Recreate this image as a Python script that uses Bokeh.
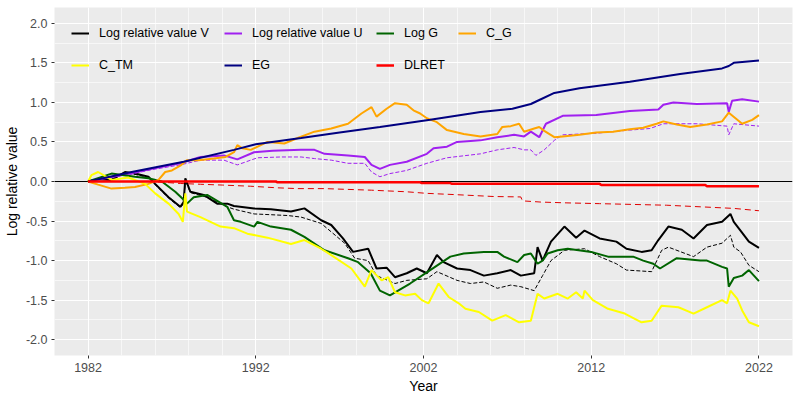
from bokeh.plotting import figure
from bokeh.models import Span, Legend, LegendItem, FixedTicker, PrintfTickFormatter, Range1d
from bokeh.embed import file_html
from bokeh.resources import INLINE

# ---------------- data ----------------
x_ticks = [1982, 1992, 2002, 2012, 2022]
x_minor = list(range(1980, 2025, 2))
y_ticks = [-2.0, -1.5, -1.0, -0.5, 0.0, 0.5, 1.0, 1.5, 2.0]
y_minor = [-1.75, -1.25, -0.75, -0.25, 0.25, 0.75, 1.25, 1.75]

t_V = [1982.0, 1982.6, 1983.4, 1984.2, 1984.8, 1985.6, 1986.0, 1986.8, 1987.5, 1987.7, 1987.8, 1988.1,
       1988.9, 1989.7, 1990.3, 1990.7, 1991.9, 1992.9, 1994.1, 1994.9, 1995.9, 1996.5, 1997.2, 1997.8,
       1998.7, 1999.2, 1999.8, 2000.3, 2001.0, 2001.6, 2002.2, 2002.8, 2003.2, 2004.0, 2004.8, 2005.6,
       2006.4, 2007.2, 2007.8, 2008.6, 2008.8, 2009.1, 2009.6, 2010.4, 2011.1, 2011.6, 2012.5, 2013.5,
       2014.1, 2015.0, 2015.6, 2016.0, 2016.6, 2017.4, 2018.1, 2018.9, 2019.8, 2020.3, 2020.5, 2020.9,
       2021.4, 2022.0]
V = [0.0, 0.03, 0.02, 0.12, 0.10, 0.06, -0.03, -0.20, -0.32, -0.26, 0.04, -0.13,
     -0.17, -0.28, -0.28, -0.31, -0.34, -0.35, -0.38, -0.34, -0.49, -0.55, -0.72, -0.89,
     -0.85, -1.10, -1.09, -1.21, -1.16, -1.10, -1.16, -0.93, -1.02, -1.10, -1.12, -1.19,
     -1.16, -1.12, -1.19, -1.16, -0.83, -1.00, -0.76, -0.57, -0.71, -0.62, -0.72, -0.76,
     -0.85, -0.89, -0.87, -0.74, -0.57, -0.61, -0.72, -0.55, -0.51, -0.41, -0.51, -0.62,
     -0.76, -0.84]

t_V2 = [1982.0, 1982.6, 1983.4, 1984.2, 1984.8, 1985.6, 1986.0, 1986.8, 1987.5, 1987.7, 1987.8, 1988.1,
        1989.1, 1990.3, 1990.7, 1991.9, 1993.9, 1994.7, 1995.9, 1997.3, 1997.9, 1998.7, 1999.2, 2000.3,
        2001.0, 2002.2, 2002.8, 2004.0, 2004.8, 2005.6, 2006.4, 2007.2, 2007.8, 2008.6, 2009.1, 2009.6,
        2010.4, 2011.6, 2012.5, 2013.5, 2014.1, 2015.6, 2016.2, 2016.6, 2018.1, 2018.9, 2019.8, 2020.3,
        2020.5, 2020.9, 2021.4, 2022.0]
V2 = [0.0, 0.03, 0.02, 0.11, 0.09, 0.05, -0.04, -0.21, -0.33, -0.28, 0.02, -0.14,
      -0.20, -0.32, -0.35, -0.41, -0.43, -0.45, -0.53, -0.78, -0.97, -1.00, -1.19, -1.29,
      -1.25, -1.23, -1.14, -1.25, -1.29, -1.27, -1.35, -1.31, -1.33, -1.38, -1.19, -1.00,
      -0.87, -0.85, -0.95, -1.04, -1.12, -1.14, -0.87, -0.83, -0.95, -0.83, -0.78, -0.68,
      -0.83, -0.89, -1.06, -1.14]

t_U = [1982.0, 1983.0, 1984.5, 1985.8, 1987.5, 1988.7, 1990.1, 1990.9, 1991.9, 1993.0, 1994.7, 1995.5,
       1996.1, 1997.5, 1998.5, 1998.9, 1999.4, 2000.0, 2001.0, 2002.2, 2002.6, 2003.4, 2004.0, 2005.4,
       2006.4, 2007.4, 2008.0, 2008.4, 2008.9, 2009.3, 2010.3, 2012.3, 2014.3, 2016.0, 2016.3, 2016.9,
       2018.3, 2020.1, 2020.2, 2020.4, 2021.0, 2022.0]
U = [0.0, 0.04, 0.10, 0.16, 0.23, 0.31, 0.33, 0.28, 0.37, 0.39, 0.40, 0.40,
     0.35, 0.33, 0.31, 0.21, 0.16, 0.21, 0.25, 0.35, 0.42, 0.44, 0.50, 0.52,
     0.56, 0.59, 0.57, 0.63, 0.56, 0.73, 0.83, 0.84, 0.89, 0.91, 0.97, 1.00,
     0.98, 0.99, 0.88, 1.02, 1.04, 1.01]

t_U2 = [1982.0, 1983.0, 1984.5, 1985.8, 1987.5, 1988.7, 1990.1, 1990.9, 1992.1, 1993.5, 1994.7, 1995.5,
        1996.5, 1997.5, 1998.5, 1998.9, 1999.4, 2000.0, 2001.0, 2002.2, 2003.4, 2005.4, 2006.4, 2007.4,
        2008.0, 2008.4, 2008.7, 2009.2, 2009.8, 2010.3, 2012.3, 2014.3, 2015.5, 2016.3, 2018.3, 2020.1,
        2020.2, 2020.5, 2022.0]
U2 = [0.0, 0.04, 0.09, 0.15, 0.21, 0.27, 0.27, 0.21, 0.30, 0.31, 0.31, 0.29,
      0.27, 0.23, 0.23, 0.12, 0.06, 0.10, 0.14, 0.23, 0.30, 0.35, 0.40, 0.43,
      0.40, 0.40, 0.33, 0.40, 0.52, 0.59, 0.61, 0.65, 0.67, 0.73, 0.73, 0.70,
      0.59, 0.73, 0.70]

t_G = [1982.0, 1983.4, 1984.8, 1985.6, 1986.4, 1987.2, 1987.75, 1987.9, 1988.3, 1989.1, 1990.3, 1990.7,
       1991.1, 1991.9, 1992.1, 1992.9, 1994.1, 1994.9, 1996.1, 1997.5, 1998.1, 1998.85, 1999.4, 2000.0,
       2001.2, 2002.4, 2003.6, 2004.4, 2005.6, 2006.4, 2006.8, 2007.6, 2008.0, 2008.4, 2008.8, 2009.1,
       2009.4, 2010.0, 2010.6, 2012.0, 2013.0, 2014.5, 2015.1, 2015.7, 2016.1, 2017.1, 2018.5, 2018.9,
       2019.8, 2020.1, 2020.2, 2020.5, 2021.0, 2021.4, 2022.0]
G = [0.0, 0.10, 0.06, 0.04, 0.0, -0.13, -0.24, -0.28, -0.20, -0.17, -0.32, -0.49,
     -0.51, -0.57, -0.51, -0.57, -0.61, -0.70, -0.87, -0.97, -1.02, -1.16, -1.38, -1.44,
     -1.29, -1.12, -0.95, -0.91, -0.89, -0.89, -0.95, -1.02, -0.93, -0.91, -1.04, -1.00,
     -0.91, -0.87, -0.85, -0.89, -0.95, -0.95, -1.00, -1.04, -1.10, -0.97, -1.00, -1.00,
     -1.08, -1.10, -1.33, -1.22, -1.19, -1.12, -1.26]

t_CG = [1982.0, 1982.6, 1983.4, 1984.2, 1984.8, 1985.6, 1986.2, 1986.6, 1987.0, 1987.5, 1987.9, 1988.6,
        1989.5, 1990.2, 1990.7, 1990.9, 1991.2, 1991.7, 1992.7, 1993.7, 1994.5, 1995.5, 1996.5, 1997.5,
        1998.3, 1998.9, 1999.2, 1999.8, 2000.3, 2001.0, 2001.4, 2001.8, 2002.2, 2002.8, 2003.4, 2004.4,
        2005.4, 2006.4, 2006.7, 2007.2, 2007.7, 2008.0, 2008.6, 2008.9, 2009.2, 2009.8, 2010.3, 2011.3,
        2012.3, 2013.3, 2014.3, 2015.1, 2015.9, 2016.3, 2017.1, 2017.9, 2018.9, 2019.8, 2020.2, 2020.6,
        2021.0, 2021.6, 2022.0]
CG = [0.0, -0.04, -0.09, -0.08, -0.07, -0.03, 0.02, 0.12, 0.14, 0.20, 0.27, 0.27,
      0.29, 0.31, 0.37, 0.46, 0.42, 0.40, 0.50, 0.48, 0.55, 0.63, 0.67, 0.73,
      0.86, 0.94, 0.82, 0.92, 0.99, 0.97, 0.90, 0.86, 0.80, 0.75, 0.65, 0.60,
      0.57, 0.60, 0.69, 0.70, 0.73, 0.63, 0.67, 0.69, 0.64, 0.56, 0.57, 0.59,
      0.62, 0.63, 0.66, 0.68, 0.73, 0.76, 0.72, 0.69, 0.72, 0.76, 0.87, 0.80,
      0.73, 0.78, 0.84]

t_CTM = [1982.0, 1982.2, 1982.6, 1983.4, 1984.4, 1985.4, 1986.0, 1986.8, 1987.4, 1987.65, 1987.8, 1987.9,
         1988.7, 1989.9, 1990.7, 1991.5, 1992.7, 1994.1, 1994.9, 1995.9, 1996.5, 1997.7, 1998.5, 1998.9,
         1999.5, 1999.9, 2000.3, 2000.9, 2001.5, 2001.9, 2002.3, 2002.9, 2003.5, 2004.1, 2004.5, 2005.3,
         2006.1, 2006.9, 2007.7, 2008.4, 2008.8, 2009.2, 2010.0, 2010.6, 2011.1, 2011.5, 2011.6, 2012.1,
         2013.0, 2014.0, 2015.0, 2015.6, 2016.2, 2017.2, 2018.1, 2018.9, 2019.8, 2020.1, 2020.3, 2020.7,
         2021.0, 2021.4, 2022.0]
CTM = [0.0, 0.08, 0.12, 0.02, 0.05, -0.03, -0.15, -0.28, -0.41, -0.51, -0.15, -0.38,
       -0.45, -0.57, -0.59, -0.66, -0.71, -0.79, -0.74, -0.85, -0.93, -1.10, -1.33, -1.12,
       -1.25, -1.21, -1.40, -1.44, -1.42, -1.50, -1.54, -1.29, -1.46, -1.54, -1.61, -1.65,
       -1.76, -1.69, -1.78, -1.76, -1.42, -1.48, -1.42, -1.48, -1.40, -1.48, -1.38, -1.50,
       -1.61, -1.67, -1.78, -1.76, -1.57, -1.59, -1.67, -1.59, -1.50, -1.54, -1.38, -1.48,
       -1.63, -1.78, -1.83]

t_EG = [1982.0, 1984.6, 1987.7, 1990.7, 1992.0, 1994.7, 1997.0, 1999.4, 2002.4, 2005.4, 2007.3, 2008.4,
        2009.0, 2009.8, 2011.3, 2014.3, 2017.3, 2019.8, 2020.2, 2020.5, 2022.0]
EG = [0.0, 0.12, 0.25, 0.40, 0.47, 0.55, 0.62, 0.69, 0.78, 0.88, 0.92, 0.98,
      1.04, 1.12, 1.18, 1.26, 1.36, 1.43, 1.46, 1.50, 1.53]

t_DL = [1982.0, 1993.2, 1993.3, 2001.8, 2001.9, 2003.6, 2003.7, 2012.5, 2012.6, 2018.8, 2018.9, 2022.0]
DL = [0.0, 0.0, -0.01, -0.01, -0.02, -0.02, -0.03, -0.03, -0.045, -0.045, -0.06, -0.06]

t_DL2 = [1982.0, 1985.5, 1986.5, 1987.5, 1988.7, 1990.0, 1991.7, 1993.3, 1994.5, 1996.1, 1998.9, 2001.0,
         2002.2, 2003.8, 2006.2, 2007.8, 2007.9, 2009.0, 2010.5, 2012.5, 2014.5, 2016.5, 2018.5, 2020.5,
         2022.0]
DL2 = [0.0, 0.0, -0.01, -0.025, -0.035, -0.045, -0.06, -0.08, -0.09, -0.09, -0.11, -0.13,
       -0.15, -0.165, -0.19, -0.195, -0.245, -0.26, -0.27, -0.28, -0.29, -0.30, -0.32, -0.34,
       -0.37]

labels = ["Log relative value V", "Log relative value U", "Log G", "C_G", "C_TM", "EG", "DLRET"]

# ---------------- figure ----------------
FONT = "Liberation Sans"
p = figure(width=800, height=400, output_backend="svg", toolbar_location=None,
           x_range=Range1d(1980, 2024), y_range=Range1d(-2.2, 2.2),
           min_border_left=53, min_border_right=8, min_border_top=7, min_border_bottom=45,
           x_axis_label="Year", y_axis_label="Log relative value")
p.background_fill_color = "#EBEBEB"
p.border_fill_color = "white"
p.outline_line_color = None

p.xaxis.ticker = FixedTicker(ticks=x_ticks, minor_ticks=x_minor)
p.yaxis.ticker = FixedTicker(ticks=y_ticks, minor_ticks=y_minor)
p.yaxis.formatter = PrintfTickFormatter(format="%.1f")

for g in (p.xgrid[0], p.ygrid[0]):
    g.grid_line_color = "white"
    g.grid_line_width = 1.1
    g.minor_grid_line_color = "white"
    g.minor_grid_line_width = 0.6

for ax in (p.xaxis[0], p.yaxis[0]):
    ax.axis_line_color = None
    ax.major_tick_line_color = "#333333"
    ax.major_tick_line_width = 1
    ax.major_tick_out = 3
    ax.major_tick_in = 0
    ax.minor_tick_line_color = None
    ax.major_label_text_color = "#4D4D4D"
    ax.major_label_text_font = FONT
    ax.major_label_text_font_size = "12.5px"
    ax.major_label_standoff = 3
    ax.axis_label_text_font = FONT
    ax.axis_label_text_font_size = "14px"
    ax.axis_label_text_font_style = "normal"
    ax.axis_label_text_color = "black"
    ax.axis_label_standoff = 3

p.add_layout(Span(location=0, dimension="width", line_color="black", line_width=1, level="underlay"))

p.line(t_V2, V2, line_color="black", line_width=1, line_dash="4 2")
rV = p.line(t_V, V, line_color="black", line_width=2)
p.line(t_U2, U2, line_color="#A020F0", line_width=1, line_dash="4 2")
rU = p.line(t_U, U, line_color="#A020F0", line_width=2)
rG = p.line(t_G, G, line_color="#006400", line_width=2)
rCG = p.line(t_CG, CG, line_color="#FFA500", line_width=2)
rCTM = p.line(t_CTM, CTM, line_color="#FFFF00", line_width=2)
rEG = p.line(t_EG, EG, line_color="#000080", line_width=2)
p.line(t_DL2, DL2, line_color="#E00000", line_width=1, line_dash="6 4")
rDL = p.line(t_DL, DL, line_color="#FF0000", line_width=2.5)


def add_legend(items, x, y):
    lg = Legend(items=items, location=(x, y), orientation="vertical",
                background_fill_alpha=0, border_line_color=None,
                padding=0, margin=0, spacing=12, glyph_width=18, glyph_height=20,
                label_height=20, label_standoff=10, label_text_font=FONT,
                label_text_font_size="12.5px", label_text_color="black")
    p.add_layout(lg)


add_legend([LegendItem(label=labels[0], renderers=[rV]), LegendItem(label=labels[4], renderers=[rCTM])], 17, 280)
add_legend([LegendItem(label=labels[1], renderers=[rU]), LegendItem(label=labels[5], renderers=[rEG])], 170, 280)
add_legend([LegendItem(label=labels[2], renderers=[rG]), LegendItem(label=labels[6], renderers=[rDL])], 322, 280)
add_legend([LegendItem(label=labels[3], renderers=[rCG])], 404, 312)

open("out.html", "w").write(file_html(p, INLINE))
